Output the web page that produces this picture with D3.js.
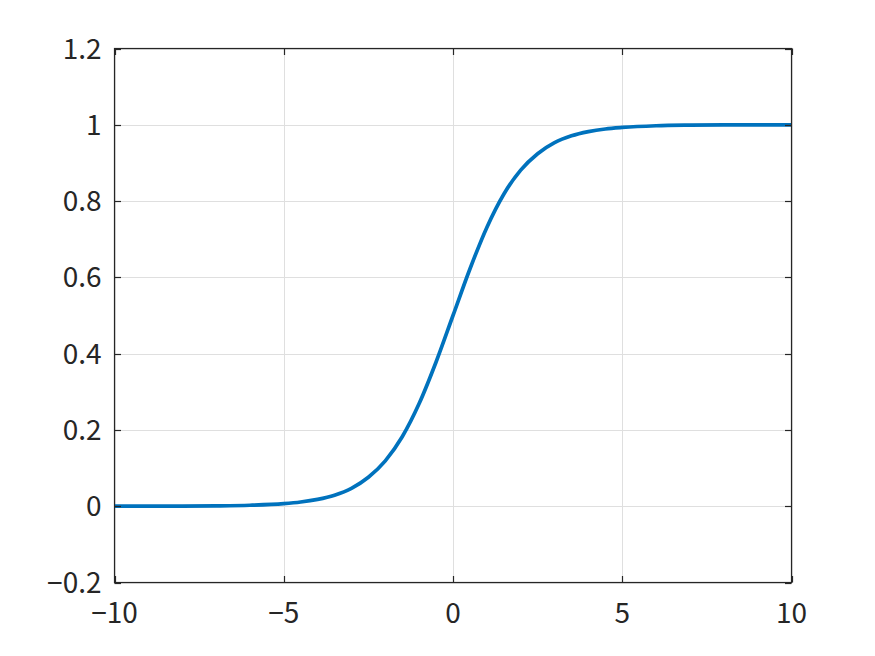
<!DOCTYPE html>
<html>
<head>
<meta charset="utf-8">
<script src="https://cdn.jsdelivr.net/npm/d3@7"></script>
<style>
  html, body { margin: 0; padding: 0; background: #fff; }
  svg { display: block; }
  .tick-label { font-family: "Noto Sans CJK JP", "Noto Sans", sans-serif; font-size: 28px; fill: #262626; }
</style>
</head>
<body>
<script>
// values
var xValues = [-10, -9, -8, -7, -6, -5, -4.5, -4, -3.5, -3, -2.5, -2, -1.5, -1, -0.5, 0,
  0.5, 1, 1.5, 2, 2.5, 3, 3.5, 4, 4.5, 5, 6, 7, 8, 9, 10];
var yValues = [0.0000, 0.0001, 0.0003, 0.0009, 0.0025, 0.0067, 0.011, 0.018, 0.029, 0.047, 0.076, 0.119, 0.182, 0.269, 0.378, 0.5,
  0.622, 0.731, 0.818, 0.881, 0.924, 0.953, 0.971, 0.982, 0.989, 0.993, 0.9975, 0.9991, 0.9997, 0.9999, 1.0000];
var xTicks = [-10, -5, 0, 5, 10];
var yTicks = [-0.2, 0, 0.2, 0.4, 0.6, 0.8, 1, 1.2];

var width = 875;
var height = 656;
var plotLeft = 114.5, plotRight = 791.5, plotTop = 48.5, plotBottom = 582.5;
var tickLen = 6.5;

var svg = d3.select('body').append('svg')
    .attr('width', width)
    .attr('height', height);

var x = d3.scaleLinear().domain([-10, 10]).range([plotLeft, plotRight]);
var y = d3.scaleLinear().domain([-0.2, 1.2]).range([plotBottom, plotTop]);

var fmt = function(d) {
  return (d < 0 ? '\u2212' : '') + String(Math.abs(Math.round(d * 10) / 10));
};

// grid
var grid = svg.append('g').attr('stroke', '#dfdfdf').attr('stroke-width', 1);
grid.selectAll('line.gx').data(xTicks).enter().append('line')
    .attr('x1', function(d) { return Math.round(x(d)) + 0.5; })
    .attr('x2', function(d) { return Math.round(x(d)) + 0.5; })
    .attr('y1', plotTop).attr('y2', plotBottom);
grid.selectAll('line.gy').data(yTicks).enter().append('line')
    .attr('y1', function(d) { return Math.round(y(d)) + 0.5; })
    .attr('y2', function(d) { return Math.round(y(d)) + 0.5; })
    .attr('x1', plotLeft).attr('x2', plotRight);

// curve
var line = d3.line()
    .x(function(d) { return x(d[0]); })
    .y(function(d) { return y(d[1]); })
    .curve(d3.curveMonotoneX);
svg.append('path')
    .datum(d3.zip(xValues, yValues))
    .attr('d', line)
    .attr('fill', 'none')
    .attr('stroke', '#0072BD')
    .attr('stroke-width', 3.7);

// box and inward ticks on all sides
var axes = svg.append('g').attr('stroke', '#262626').attr('stroke-width', 1.2);
axes.append('rect')
    .attr('x', plotLeft).attr('y', plotTop)
    .attr('width', plotRight - plotLeft).attr('height', plotBottom - plotTop)
    .attr('fill', 'none');
xTicks.forEach(function(d) {
  var px = Math.round(x(d)) + 0.5;
  axes.append('line').attr('x1', px).attr('x2', px).attr('y1', plotBottom).attr('y2', plotBottom - tickLen);
  axes.append('line').attr('x1', px).attr('x2', px).attr('y1', plotTop).attr('y2', plotTop + tickLen);
});
yTicks.forEach(function(d) {
  var py = Math.round(y(d)) + 0.5;
  axes.append('line').attr('y1', py).attr('y2', py).attr('x1', plotLeft).attr('x2', plotLeft + tickLen);
  axes.append('line').attr('y1', py).attr('y2', py).attr('x1', plotRight).attr('x2', plotRight - tickLen);
});

// labels
svg.append('g').selectAll('text').data(xTicks).enter().append('text')
    .attr('class', 'tick-label')
    .attr('x', function(d) { return x(d); })
    .attr('y', 623)
    .attr('text-anchor', 'middle')
    .text(fmt);
svg.append('g').selectAll('text').data(yTicks).enter().append('text')
    .attr('class', 'tick-label')
    .attr('x', plotLeft - 13)
    .attr('y', function(d) { return y(d) + 10; })
    .attr('text-anchor', 'end')
    .text(fmt);
</script>
</body>
</html>
